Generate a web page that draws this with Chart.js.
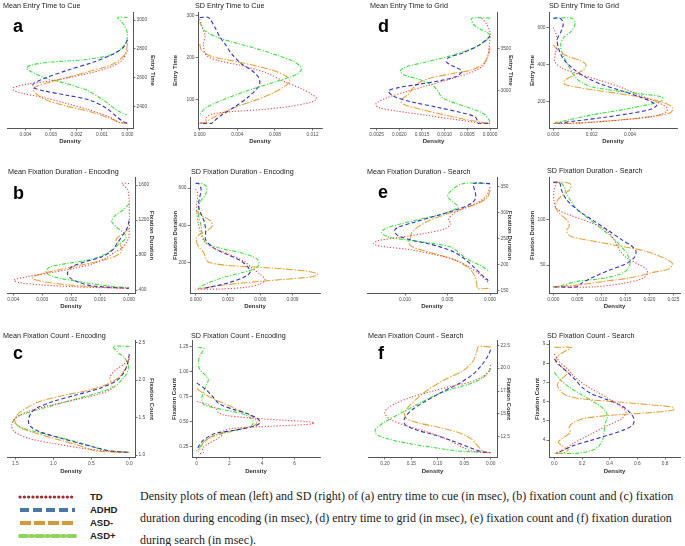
<!DOCTYPE html>
<html><head><meta charset="utf-8">
<script src="https://cdn.jsdelivr.net/npm/chart.js@4.4.1/dist/chart.umd.min.js"></script>
<style>
html,body{margin:0;padding:0;background:#fff;}
#fig{position:relative;width:685px;height:546px;overflow:hidden;background:#fff;font-family:"Liberation Sans",Arial,sans-serif;}
#fig canvas{position:absolute;}
.ttl{position:absolute;font-size:7.2px;color:#222;white-space:nowrap;line-height:1;}
.lbl{position:absolute;font-size:18px;font-weight:bold;color:#000;line-height:1;}
.lg{position:absolute;font-size:9.5px;font-weight:bold;color:#222;line-height:1;}
.cap{position:absolute;left:140px;font-family:"Liberation Serif","Times New Roman",serif;font-size:12px;color:#222;white-space:nowrap;line-height:1;}
</style></head>
<body><div id="fig"></div>
<script>
// ---------- data: [density, value] ----------
const aTD   = [[0,2788],[0.00022,2719],[0.00068,2673],[0.00159,2627],[0.0029,2581],[0.00395,2554],[0.00447,2531],[0.00447,2512],[0.00408,2489],[0.00329,2462],[0.00238,2420],[0.00146,2374],[0.00068,2324],[0.00035,2290],[0,2288]];
const aADHD = [[0,2862],[0.00016,2811],[0.00055,2765],[0.00133,2708],[0.00238,2650],[0.00329,2593],[0.00369,2558],[0.00369,2531],[0.00329,2508],[0.00238,2478],[0.00146,2443],[0.00081,2386],[0.00042,2328],[0.00016,2294],[0,2282]];
const aASDm = [[0,2839],[0.00009,2765],[0.00055,2696],[0.00159,2639],[0.00277,2581],[0.00356,2540],[0.00369,2517],[0.00356,2485],[0.00316,2443],[0.00238,2402],[0.00146,2363],[0.00068,2317],[0.00029,2287],[0,2282]];
const aASDp = [[0,3018],[0.00039,3018],[0.00016,2972],[0,2903],[0.00009,2834],[0.00055,2765],[0.00173,2724],[0.00303,2708],[0.00382,2685],[0.00395,2662],[0.00375,2639],[0.00316,2593],[0.00238,2558],[0.00159,2512],[0.00094,2443],[0.00042,2374],[0.00003,2340]];

const sdCueTD   = [[0,292],[0.00028,272],[0.00057,253],[0.00039,229],[0.00074,205],[0.00198,193],[0.00446,181],[0.00729,162],[0.00906,142],[0.01083,126],[0.01207,110],[0.01243,102],[0.01189,94],[0.00977,84],[0.00658,76],[0.0034,71],[0.00127,65],[0.00064,55],[0.00074,43],[0,43]];
const sdCueADHD = [[0,296],[0.00092,296],[0.00163,272],[0.00216,249],[0.00269,233],[0.0034,209],[0.00446,185],[0.00552,170],[0.00623,154],[0.0064,142],[0.00623,130],[0.00517,106],[0.00375,83],[0.00234,63],[0.00145,47],[0.00127,43],[0,43]];
const sdCueASDm = [[0,233],[0.00021,217],[0.00127,203],[0.0034,193],[0.00588,181],[0.008,168],[0.00924,155],[0.0096,144],[0.00906,132],[0.00765,114],[0.00588,98],[0.00393,83],[0.00234,67],[0.0011,53],[0.00057,45],[0,45]];
const sdCueASDp = [[0,284],[0.00057,264],[0.00234,245],[0.00552,225],[0.00835,205],[0.01012,189],[0.01083,174],[0.0103,160],[0.008,142],[0.00517,122],[0.00234,98],[0.00057,79],[0,63]];

const dTD   = [[0.000184,3872],[0.000074,3800],[0,3700],[0.000015,3560],[0.00005,3420],[0.000147,3300],[0.0004,3220],[0.00085,3140],[0.00136,3060],[0.00187,2980],[0.00232,2900],[0.00252,2832],[0.00246,2792],[0.00209,2752],[0.00143,2700],[0.00077,2648],[0.00026,2608],[0,2600]];
const dADHD = [[0,3660],[0.000037,3632],[0.00026,3540],[0.00062,3448],[0.00092,3392],[0.00096,3340],[0.00077,3280],[0.00062,3232],[0.00074,3168],[0.00107,3120],[0.00158,3072],[0.00202,3032],[0.00224,2992],[0.00213,2928],[0.00173,2860],[0.00114,2792],[0.00062,2728],[0.00033,2680],[0.00027,2620],[0.00026,2600],[0,2600]];
const dASDm = [[0,3520],[0.000037,3420],[0.000147,3320],[0.0004,3248],[0.00085,3200],[0.00129,3152],[0.00154,3100],[0.00169,3032],[0.0018,2952],[0.00196,2880],[0.00191,2832],[0.00151,2768],[0.00099,2700],[0.00048,2640],[0.00011,2608],[0,2600]];
const dASDp = [[0,3872],[0.000404,3872],[0.000368,3800],[0.00022,3740],[0.00002,3680],[0.000074,3608],[0.00033,3520],[0.00085,3420],[0.00143,3340],[0.00187,3280],[0.00198,3232],[0.00187,3180],[0.00154,3128],[0.00127,3060],[0.00115,2992],[0.00107,2920],[0.00085,2860],[0.00048,2792],[0.00015,2720],[0.00002,2640],[0,2600]];

const sdGridTD   = [[0,600],[0.00014,564],[0.00021,510],[0.00009,448],[0.00009,412],[0.00052,376],[0.00139,345],[0.00243,313],[0.00348,277],[0.00452,232],[0.00539,196],[0.00591,166],[0.00591,143],[0.00522,119],[0.00383,101],[0.00209,87],[0.0007,80],[0,80]];
const sdGridADHD = [[0,650],[0.00035,650],[0.00052,622],[0.00038,573],[0.00021,537],[0.00026,492],[0.00052,430],[0.00104,376],[0.00174,327],[0.00252,291],[0.00348,259],[0.00443,227],[0.00513,196],[0.00539,177],[0.00504,155],[0.004,134],[0.00261,112],[0.00122,94],[0.00017,80]];
const sdGridASDm = [[0,505],[0.00026,474],[0.00078,442],[0.00139,421],[0.0017,399],[0.00157,370],[0.00104,340],[0.00056,309],[0.00061,291],[0.00139,273],[0.00296,248],[0.00452,223],[0.00565,196],[0.00623,166],[0.00609,137],[0.00504,116],[0.00296,94],[0.00104,80],[0,80]];
const sdGridASDp = [[0,650],[0.00096,650],[0.00113,622],[0.00096,582],[0.00052,543],[0.00038,501],[0.00052,448],[0.00087,376],[0.00122,322],[0.00191,281],[0.0033,256],[0.0047,238],[0.00565,223],[0.00565,202],[0.00504,184],[0.00365,155],[0.00209,128],[0.00087,101],[0.00009,83]];

const bTD   = [[0,1619],[0.00025,1619],[0.00006,1555],[0,1460],[0,1006],[0.00008,949],[0.00022,885],[0.00048,835],[0.00077,771],[0.00123,703],[0.00193,646],[0.00273,597],[0.00354,552],[0.00398,514],[0.00377,483],[0.00296,457],[0.00193,438],[0.001,427],[0,419]];
const bADHD = [[0,1195],[0.00005,1119],[0.0002,1036],[0.0004,938],[0.0006,847],[0.00095,779],[0.00152,722],[0.00198,665],[0.00213,589],[0.00202,533],[0.0017,483],[0.00123,446],[0,419]];
const bASDm = [[0,1100],[0.00014,1063],[0.00045,975],[0.00029,911],[0.00025,847],[0.00048,786],[0.001,733],[0.0017,684],[0.0025,627],[0.00319,570],[0.00333,533],[0.00296,495],[0.00204,457],[0.001,434],[0,419]];
const bASDp = [[0,1384],[0.0002,1316],[0.00048,1252],[0.0006,1187],[0.00043,1119],[0.00017,1051],[0.0001,998],[0.00029,938],[0.00054,873],[0.00083,809],[0.00135,748],[0.00216,703],[0.00273,665],[0.00287,608],[0.00262,552],[0.0017,495],[0.00077,449],[0,427]];

const sdFDeTD   = [[0,595],[0.00019,568],[0.00009,515],[0.00012,462],[0.00025,409],[0.0005,352],[0.00087,311],[0.0018,276],[0.00335,241],[0.00459,205],[0.00527,170],[0.00598,140],[0.00645,111],[0.00598,87],[0.00459,69],[0.00211,60],[0,60]];
const sdFDeADHD = [[0,625],[0.00025,625],[0.0005,595],[0.00037,550],[0.00025,506],[0.0005,462],[0.00081,418],[0.00093,370],[0.00093,324],[0.00164,281],[0.00288,246],[0.00412,214],[0.00484,179],[0.00505,149],[0.00443,122],[0.00319,96],[0.0018,76],[0.00056,62]];
const sdFDeASDm = [[0,480],[0.00056,453],[0.00133,427],[0.00155,400],[0.00118,377],[0.0004,356],[0.00006,329],[0.00019,294],[0.00071,258],[0.00093,228],[0.00118,205],[0.00273,188],[0.00645,175],[0.01017,157],[0.01135,140],[0.01079,126],[0.008,111],[0.00459,94],[0.0018,76],[0.00025,62]];
const sdFDeASDp = [[0,625],[0.00056,625],[0.001,607],[0.00093,568],[0.0004,524],[0.00025,462],[0.0005,400],[0.00062,347],[0.00093,311],[0.00211,281],[0.00428,253],[0.00567,223],[0.00589,193],[0.00552,170],[0.00428,147],[0.00257,122],[0.00102,90],[0.00019,64]];

const eTD   = [[0,349],[0.00039,333],[0.00137,320],[0.00294,309],[0.00431,298],[0.0049,286],[0.00459,279],[0.00529,269],[0.00765,260],[0.01078,252],[0.01314,246],[0.01373,240],[0.01275,235],[0.00961,229],[0.00647,219],[0.00412,209],[0.00255,196],[0.00137,183],[0.00059,172],[0.00012,163]];
const eADHD = [[0,356],[0.00196,356],[0.00176,341],[0.00169,328],[0.00216,318],[0.00373,307],[0.00608,295],[0.00882,282],[0.01078,272],[0.01125,265],[0.01086,256],[0.00922,247],[0.00725,240],[0.00569,233],[0.00412,223],[0.00294,210],[0.00196,196],[0.00098,180],[0.0002,169]];
const eASDm = [[0,344],[0.00027,330],[0.00137,318],[0.00333,307],[0.00549,295],[0.00725,284],[0.00851,272],[0.00922,261],[0.00941,250],[0.00953,240],[0.00902,233],[0.00745,225],[0.00529,215],[0.00353,204],[0.00235,191],[0.00176,177],[0.00157,163],[0.00145,154],[0,154]];
const eASDp = [[0,356],[0.00314,356],[0.00451,344],[0.00498,331],[0.00431,320],[0.00373,311],[0.00529,299],[0.00804,288],[0.01078,277],[0.01235,269],[0.01275,261],[0.01196,253],[0.00961,247],[0.00647,240],[0.00451,233],[0.00353,221],[0.00255,209],[0.00098,197],[0.00012,186]];

const sdFDsTD   = [[0.00069,141],[0.00014,132],[0.00014,121],[0.00069,112],[0.00347,105],[0.00763,97],[0.0111,88],[0.01284,76],[0.01388,66],[0.01527,58],[0.0177,51],[0.01943,45],[0.01957,40],[0.01839,35],[0.01457,30],[0.00833,26],[0,26]];
const sdFDsADHD = [[0,141],[0.00125,141],[0.00174,132],[0.00292,121],[0.00521,110],[0.00833,99],[0.01145,88],[0.01423,78],[0.01631,71],[0.01721,65],[0.01679,58],[0.01492,51],[0.01145,44],[0.00798,36],[0.00555,29],[0.00486,26],[0,26]];
const sdFDsASDm = [[0,141],[0.00243,141],[0.00361,139],[0.00347,133],[0.00208,128],[0.00083,121],[0.00042,114],[0.00125,107],[0.00292,99],[0.00333,93],[0.00278,88],[0.00347,82],[0.00763,77],[0.01388,71],[0.01943,65],[0.0229,58],[0.02478,52],[0.02415,46],[0.02082,42],[0.01596,36],[0.01041,32],[0.00486,28],[0,26]];
const sdFDsASDp = [[0,141],[0.00153,141],[0.00222,136],[0.00312,125],[0.00486,112],[0.00763,100],[0.01006,90],[0.01215,81],[0.01388,72],[0.01527,63],[0.01596,54],[0.01561,46],[0.01388,40],[0.00972,35],[0.00486,32],[0.00139,27],[0,26]];

const cTD   = [[0,2.279],[0.07,2.213],[0.189,2.125],[0.254,2.037],[0.232,1.949],[0.232,1.882],[0.386,1.816],[0.693,1.741],[1.044,1.662],[1.351,1.574],[1.504,1.485],[1.548,1.397],[1.518,1.318],[1.351,1.229],[1.0,1.155],[0.605,1.088],[0.298,1.053],[0,1.035]];
const cADHD = [[0,2.346],[0.026,2.213],[0.07,2.103],[0.167,1.993],[0.386,1.891],[0.693,1.803],[1.0,1.715],[1.219,1.627],[1.298,1.552],[1.329,1.463],[1.307,1.388],[1.175,1.309],[0.912,1.229],[0.649,1.155],[0.43,1.097],[0.254,1.053],[0,1.035]];
const cASDm = [[0,2.301],[0.044,2.169],[0.123,2.05],[0.276,1.949],[0.561,1.86],[0.868,1.794],[1.175,1.715],[1.373,1.618],[1.482,1.53],[1.504,1.441],[1.43,1.362],[1.219,1.287],[0.912,1.199],[0.649,1.124],[0.43,1.053],[0,1.035]];
const cASDp = [[0,2.447],[0.21,2.447],[0.158,2.376],[0.07,2.301],[0.013,2.213],[0.026,2.103],[0.088,2.015],[0.189,1.918],[0.386,1.838],[0.693,1.75],[1.0,1.662],[1.285,1.582],[1.46,1.521],[1.526,1.463],[1.491,1.406],[1.351,1.344],[1.088,1.274],[0.781,1.199],[0.518,1.124],[0.32,1.066],[0,1.035]];

const sdFCeTD   = [[0,0.702],[0.71,0.669],[1.22,0.623],[1.33,0.59],[1.73,0.564],[3.37,0.537],[5.41,0.514],[6.94,0.498],[7.2,0.484],[6.63,0.471],[4.59,0.455],[2.14,0.432],[1.57,0.399],[1.57,0.366],[1.22,0.326],[0.71,0.28],[0.35,0.234],[0.41,0.194],[0.2,0.181]];
const sdFCeADHD = [[0,0.887],[0.51,0.828],[0.96,0.755],[1.37,0.679],[2.24,0.623],[3.16,0.577],[3.73,0.53],[3.88,0.491],[3.57,0.458],[2.35,0.415],[1.12,0.382],[0.41,0.316],[0.14,0.26],[0,0.207]];
const sdFCeASDm = [[0,0.828],[0.47,0.778],[1.12,0.722],[1.94,0.663],[2.65,0.61],[3.33,0.557],[3.69,0.498],[3.49,0.458],[2.24,0.412],[1.02,0.359],[0.47,0.306],[0.27,0.25],[0.1,0.2]];
const sdFCeASDp = [[0.1,1.24],[0.45,1.23],[0.2,1.158],[0.1,1.085],[0.2,1.019],[0.51,0.966],[0.71,0.92],[0.61,0.867],[0.41,0.795],[0.31,0.722],[0.47,0.669],[1.53,0.623],[2.96,0.57],[3.47,0.504],[3.33,0.458],[2.14,0.405],[0.92,0.349],[0.35,0.283],[0.1,0.217]];

const fTD   = [[0,20.33],[0.0032,19.72],[0.0139,19.11],[0.036,18.53],[0.0738,18.02],[0.112,17.45],[0.15,16.83],[0.181,16.11],[0.197,15.5],[0.2,15.03],[0.19,14.41],[0.162,13.76],[0.124,13.11],[0.0864,12.32],[0.0549,11.42],[0.036,10.95],[0,10.77]];
const fADHD = [[0,22.0],[0.0057,21.27],[0.017,20.33],[0.0328,19.36],[0.058,18.38],[0.0927,17.37],[0.124,16.36],[0.15,15.39],[0.163,14.49],[0.162,13.84],[0.143,13.29],[0.109,12.75],[0.0738,12.1],[0.0423,11.38],[0.017,10.88],[0,10.77]];
const fASDm = [[0,22.32],[0.0233,22.32],[0.0265,21.71],[0.0328,20.8],[0.0517,19.72],[0.0864,18.75],[0.118,17.66],[0.14,16.65],[0.156,15.75],[0.163,15.03],[0.159,14.49],[0.137,14.02],[0.099,13.55],[0.0612,12.97],[0.036,12.25],[0.0233,11.42],[0.0139,10.88],[0,10.77]];
const fASDp = [[0,19.97],[0.0057,19.36],[0.0202,18.75],[0.0454,18.17],[0.077,17.66],[0.1085,16.94],[0.14,16.0],[0.1716,15.03],[0.2,14.13],[0.2177,13.33],[0.2177,12.86],[0.1968,12.32],[0.1558,11.78],[0.1054,11.31],[0.0612,10.95],[0,10.77]];

const sdFCsTD   = [[0,8.48],[0.036,8.09],[0.094,7.71],[0.142,7.33],[0.214,6.91],[0.311,6.5],[0.402,6.12],[0.475,5.78],[0.518,5.47],[0.487,5.12],[0.378,4.74],[0.258,4.29],[0.137,3.83],[0.065,3.48],[0,3.31]];
const sdFCsADHD = [[0,8.22],[0.041,7.88],[0.101,7.5],[0.157,7.1],[0.198,6.76],[0.27,6.41],[0.378,6.12],[0.487,5.78],[0.547,5.43],[0.576,5.09],[0.566,4.78],[0.499,4.52],[0.39,4.26],[0.27,4.0],[0.149,3.74],[0.065,3.48],[0.017,3.31]];
const sdFCsASDm = [[0,8.83],[0.125,8.83],[0.084,8.66],[0.022,8.36],[0.012,8.05],[0.065,7.74],[0.094,7.5],[0.053,7.19],[0.022,6.88],[0.041,6.59],[0.077,6.36],[0.186,6.16],[0.402,6.02],[0.692,5.84],[0.86,5.71],[0.86,5.57],[0.692,5.43],[0.402,5.29],[0.21,5.12],[0.137,4.91],[0.108,4.69],[0.113,4.4],[0.065,4.12],[0.029,3.91],[0.053,3.71],[0.101,3.5],[0.065,3.34],[0,3.31]];
const sdFCsASDp = [[0,7.53],[0.041,7.16],[0.108,6.76],[0.198,6.36],[0.294,5.95],[0.366,5.55],[0.383,5.21],[0.366,4.86],[0.359,4.43],[0.349,4.0],[0.318,3.66],[0.258,3.43],[0.161,3.31],[0,3.31]];

// ---------- tick values ----------
const aXTicks = [0.004,0.003,0.002,0.001,0], aYTicks = [2400,2600,2800,3000];
const sdCueXTicks = [0,0.004,0.008,0.012], sdCueYTicks = [100,200,300];
const dXTicks = [0.0025,0.002,0.0015,0.001,0.0005,0], dYTicks = [3000,3500];
const sdGridXTicks = [0,0.002,0.004], sdGridYTicks = [200,400,600];
const bXTicks = [0.004,0.003,0.002,0.001,0], bYTicks = [400,800,1200,1600];
const sdFDeXTicks = [0,0.003,0.006,0.009], sdFDeYTicks = [200,400,600];
const eXTicks = [0.01,0.005,0], eYTicks = [150,200,250,300,350];
const sdFDsXTicks = [0,0.005,0.01,0.015,0.02,0.025], sdFDsYTicks = [50,100];
const cXTicks = [1.5,1.0,0.5,0], cYTicks = [1.0,1.5,2.0,2.5];
const sdFCeXTicks = [0,2,4,6], sdFCeYTicks = [0.25,0.5,0.75,1.0,1.25];
const fXTicks = [0.2,0.15,0.1,0.05,0], fYTicks = [12.5,15,17.5,20,22.5];
const sdFCsXTicks = [0,0.2,0.4,0.6,0.8], sdFCsYTicks = [4,5,6,7,8,9];

const groups = ['TD','ADHD','ASD-','ASD+'];

// ---------- styles ----------
const ST = [
  {color:'#e2474b', dash:[1.2,1.8]},
  {color:'#3434c4', dash:[4,2.5]},
  {color:'#e3a43c', dash:[7,1.5,1.5,1.5]},
  {color:'#3ee03e', dash:[4,1.5,1.2,1.5]}
];

const panels = [
 {t:'Mean Entry Time to Cue', tx:3, ty:6, L:'a', lx:13, ly:17, plot:[7,12,133,128], yPos:'right', yT:'Entry Time', yTX:153, xTY:141, rev:true, xr:[-0.000216,0.004725], yr:[2250,3050], xt:aXTicks, xd:3, yt:aYTicks, yd:0, s:[aTD,aADHD,aASDm,aASDp]},
 {t:'SD Entry Time to Cue', tx:195, ty:6, plot:[198,12,322,128], yPos:'left', yT:'Entry Time', yTX:175, xTY:141, rev:false, xr:[-0.000177,0.013], yr:[32,307], xt:sdCueXTicks, xd:3, yt:sdCueYTicks, yd:0, s:[sdCueTD,sdCueADHD,sdCueASDm,sdCueASDp]},
 {t:'Mean Entry Time to Grid', tx:370, ty:6, L:'d', lx:378, ly:17, plot:[370,12,497,128], yPos:'right', yT:'Entry Time', yTX:511, xTY:141, rev:true, xr:[-0.000154,0.002646], yr:[2544,3936], xt:dXTicks, xd:4, yt:dYTicks, yd:0, s:[dTD,dADHD,dASDm,dASDp]},
 {t:'SD Entry Time to Grid', tx:549, ty:6, plot:[549,12,677,128], yPos:'left', yT:'Entry Time', yTX:532, xTY:141, rev:false, xr:[-0.000226,0.00645], yr:[55,679], xt:sdGridXTicks, xd:3, yt:sdGridYTicks, yd:0, s:[sdGridTD,sdGridADHD,sdGridASDm,sdGridASDp]},

 {t:'Mean Fixation Duration - Encoding', tx:8, ty:172, L:'b', lx:13, ly:184, plot:[7,177,135,293], yPos:'right', yT:'Fixation Duration', yTX:152, xTY:306, rev:true, xr:[-0.000208,0.00422], yr:[366,1683], xt:bXTicks, xd:3, yt:bYTicks, yd:0, s:[bTD,bADHD,bASDm,bASDp]},
 {t:'SD Fixation Duration - Encoding', tx:191, ty:172, plot:[190,177,320,293], yPos:'left', yT:'Fixation Duration', yTX:175, xTY:306, rev:false, xr:[-0.00053,0.01156], yr:[39,655], xt:sdFDeXTicks, xd:3, yt:sdFDeYTicks, yd:0, s:[sdFDeTD,sdFDeADHD,sdFDeASDm,sdFDeASDp]},
 {t:'Mean Fixation Duration - Search', tx:367, ty:172, L:'e', lx:378, ly:183, plot:[367,177,497,293], yPos:'right', yT:'Fixation Duration', yTX:510, xTY:306, rev:true, xr:[-0.00082,0.01447], yr:[145,367], xt:eXTicks, xd:3, yt:eYTicks, yd:0, s:[eTD,eADHD,eASDm,eASDp]},
 {t:'SD Fixation Duration - Search', tx:547, ty:171, plot:[549,177,680,293], yPos:'left', yT:'Fixation Duration', yTX:532, xTY:306, rev:false, xr:[-0.0009,0.02637], yr:[19.3,146], xt:sdFDsXTicks, xd:3, yt:sdFDsYTicks, yd:0, s:[sdFDsTD,sdFDsADHD,sdFDsASDm,sdFDsASDp]},

 {t:'Mean Fixation Count - Encoding', tx:3, ty:336, L:'c', lx:13, ly:344, plot:[7,340,135,457], yPos:'right', yT:'Fixation Count', yTX:152, xTY:471, rev:true, xr:[-0.0746,1.61], yr:[0.974,2.522], xt:cXTicks, xd:1, yt:cYTicks, yd:1, s:[cTD,cADHD,cASDm,cASDp]},
 {t:'SD Fixation Count - Encoding', tx:191, ty:336, plot:[192,340,320,457], yPos:'left', yT:'Fixation Count', yTX:174, xTY:471, rev:false, xr:[-0.286,7.55], yr:[0.148,1.306], xt:sdFCeXTicks, xd:0, yt:sdFCeYTicks, yd:2, s:[sdFCeTD,sdFCeADHD,sdFCeASDm,sdFCeASDp]},
 {t:'Mean Fixation Count - Search', tx:368, ty:336, L:'f', lx:378, ly:344, plot:[368,340,497,457], yPos:'right', yT:'Fixation Count', yTX:509, xTY:471, rev:true, xr:[-0.012,0.232], yr:[10.3,22.97], xt:fXTicks, xd:2, yt:fYTicks, yd:1, s:[fTD,fADHD,fASDm,fASDp]},
 {t:'SD Fixation Count - Search', tx:547, ty:336, plot:[549,340,680,457], yPos:'left', yT:'Fixation Count', yTX:537, xTY:471, rev:false, xr:[-0.0386,0.908], yr:[3.12,9.17], xt:sdFCsXTicks, xd:1, yt:sdFCsYTicks, yd:0, s:[sdFCsTD,sdFCsADHD,sdFCsASDm,sdFCsASDp]}
];

const fig = document.getElementById('fig');
const TICKF = 4.8, TITF = 6, TLH = TITF*1.2;

function addDiv(cls, text, left, top){
  const d = document.createElement('div');
  d.className = cls; d.textContent = text;
  d.style.left = left+'px'; d.style.top = top+'px';
  fig.appendChild(d); return d;
}

panels.forEach(p=>{
  const [x0,y0,x1,y1] = p.plot;
  const M = 42, B = 22, T = 3;
  const cx0 = x0 - M, cx1 = x1 + M, cy0 = y0 - T, cy1 = y1 + B;
  const cv = document.createElement('canvas');
  cv.width = cx1-cx0; cv.height = cy1-cy0;
  cv.style.left = cx0+'px'; cv.style.top = cy0+'px';
  fig.appendChild(cv);
  const right = p.yPos === 'right';
  const yPad = right ? (cx1 - p.yTX - TLH/2) : (p.yTX - cx0 - TLH/2);
  const xPad = cy1 - p.xTY - TLH/2;
  new Chart(cv, {
    type:'scatter',
    data:{datasets: p.s.map((s,i)=>({
      label: groups[i],
      data: s.map(d=>({x:d[0], y:d[1]})),
      showLine:true, borderColor:ST[i].color, borderDash:ST[i].dash, borderWidth:1.1,
      pointRadius:0, tension:0.3, fill:false
    }))},
    options:{
      responsive:false, animation:false, events:[],
      layout:{autoPadding:false, padding:{left:right?M:0, right:right?0:M, top:T, bottom:0}},
      plugins:{legend:{display:false}, tooltip:{enabled:false}},
      scales:{
        x:{type:'linear', position:'bottom', reverse:p.rev, min:p.xr[0], max:p.xr[1],
          afterFit(s){ s.height = B; },
          afterBuildTicks(s){ s.ticks = p.xt.map(v=>({value:v})); },
          ticks:{callback:v=>Number(v).toFixed(p.xd), font:{size:TICKF, family:'Liberation Sans'}, color:'#4d4d4d', padding:1, maxRotation:0, autoSkip:false},
          grid:{drawOnChartArea:false, drawTicks:true, tickLength:2.5, color:'#555', lineWidth:0.8},
          border:{display:true, color:'#555', width:1},
          title:{display:true, text:'Density', font:{size:TITF, weight:'bold', family:'Liberation Sans'}, color:'#333', padding:{top:0, bottom:xPad}}
        },
        y:{type:'linear', position:p.yPos, min:p.yr[0], max:p.yr[1],
          afterFit(s){ s.width = M; },
          afterBuildTicks(s){ s.ticks = p.yt.map(v=>({value:v})); },
          ticks:{callback:v=>Number(v).toFixed(p.yd), font:{size:TICKF, family:'Liberation Sans'}, color:'#4d4d4d', padding:1, autoSkip:false},
          grid:{drawOnChartArea:false, drawTicks:true, tickLength:2.5, color:'#555', lineWidth:0.8},
          border:{display:true, color:'#555', width:1},
          title:{display:true, text:p.yT, font:{size:TITF, weight:'bold', family:'Liberation Sans'}, color:'#333', padding:{top:yPad, bottom:0}}
        }
      }
    }
  });
  addDiv('ttl', p.t, p.tx, p.ty - 3.6);
  if (p.L) addDiv('lbl', p.L, p.lx, p.ly);
});

// ---------- legend ----------
const svgNS = 'http://www.w3.org/2000/svg';
const svg = document.createElementNS(svgNS,'svg');
svg.setAttribute('width','90'); svg.setAttribute('height','60');
svg.style.position='absolute'; svg.style.left='15px'; svg.style.top='485px';
const legStyles = [
  {c:'#9e2a2f', w:3.2, d:'0.1 4.2', cap:'round'},
  {c:'#4a76a8', w:4, d:'9 4', cap:'butt'},
  {c:'#d39a3a', w:4, d:'11 3', cap:'butt'},
  {c:'#8fd45a', w:4, d:'7 3.5 2 3.5', cap:'round'}
];
legStyles.forEach((s,i)=>{
  const l = document.createElementNS(svgNS,'line');
  const y = 12 + i*13;
  l.setAttribute('x1', 5); l.setAttribute('x2', 60);
  l.setAttribute('y1', y); l.setAttribute('y2', y);
  l.setAttribute('stroke', s.c); l.setAttribute('stroke-width', s.w);
  l.setAttribute('stroke-dasharray', s.d); l.setAttribute('stroke-linecap', s.cap);
  svg.appendChild(l);
  addDiv('lg', groups[i], 90, 485 + y - 5);
});
fig.appendChild(svg);

// ---------- caption ----------
const capLines = [
 'Density plots of mean (left) and SD (right) of (a) entry time to cue (in msec), (b) fixation count and (c) fixation',
 'duration during encoding (in msec), (d) entry time to grid (in msec), (e) fixation count and (f) fixation duration',
 'during search (in msec).'
];
capLines.forEach((t,i)=> addDiv('cap', t, 140, 490 + i*22));
</script>
</body></html>
